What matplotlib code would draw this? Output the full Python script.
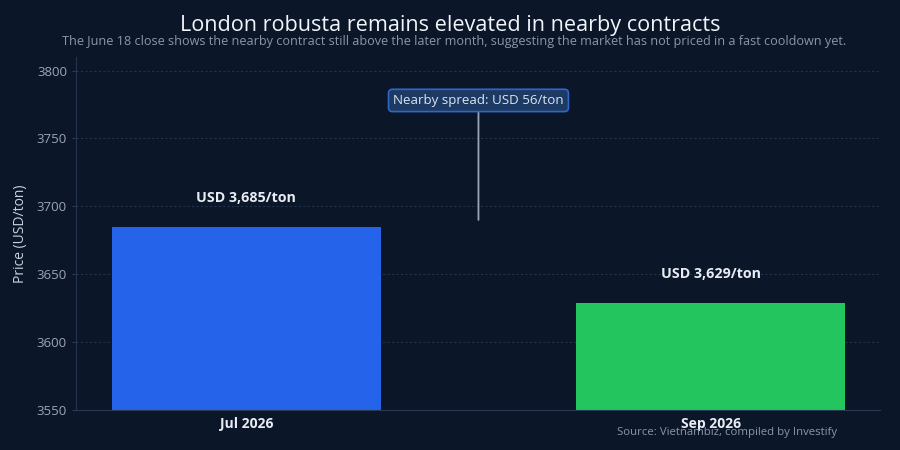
import matplotlib
matplotlib.use("Agg")
import matplotlib.pyplot as plt

# data
contracts = ["Jul 2026", "Sep 2026"]
prices = [3685, 3629]
bar_colors = ["#2563eb", "#22c55e"]
spread = prices[0] - prices[1]
yticks = [3550, 3600, 3650, 3700, 3750, 3800]

bg = "#0b1628"
plt.rcParams["font.family"] = ["Open Sans", "DejaVu Sans"]

fig = plt.figure(figsize=(9, 4.5), dpi=100, facecolor=bg)
ax = fig.add_axes([76 / 900, 40 / 450, 804 / 900, 353 / 450], facecolor=bg)

x = list(range(len(contracts)))
ax.bar(x, prices, width=0.58, color=bar_colors, zorder=2)

for xi, p in zip(x, prices):
    ax.text(xi, p + 16, f"USD {p:,}/ton", ha="center", va="bottom",
            color="#e8edf5", fontsize=10.3, fontweight="bold", zorder=3)

# spread callout
ax.annotate(f"Nearby spread: USD {spread}/ton", xy=(0.5, 3690), xytext=(0.5, 3778),
            ha="center", va="center", color="#dbe4f0", fontsize=9.6,
            bbox=dict(boxstyle="round,pad=0.35,rounding_size=0.3", fc="#1c3a64",
                      ec="#2f66c8", lw=1.2),
            arrowprops=dict(arrowstyle="-", color="#9aa6b8", lw=1.3, shrinkA=0, shrinkB=0),
            zorder=4)

ax.set_xlim(-0.367, 1.365)
ax.set_ylim(3550, 3810)
ax.set_yticks(yticks)
ax.set_xticks(x)
ax.set_xticklabels(contracts, fontsize=10, fontweight="bold", color="#e8edf5")
ax.tick_params(axis="y", colors="#2a3a52", labelcolor="#9aa6b8", labelsize=9.5, length=3)
ax.tick_params(axis="x", length=0, pad=5)
ax.grid(axis="y", color="#22324a", linestyle=(0, (2, 2)), lw=0.8, zorder=0)

for s in ["top", "right"]:
    ax.spines[s].set_visible(False)
ax.spines["left"].set_color("#24344c")
ax.spines["bottom"].set_color("#2a3a52")

ax.set_ylabel("Price (USD/ton)", color="#c9d3e0", fontsize=10, labelpad=6)

fig.text(450 / 900, 1 - 26 / 450, "London robusta remains elevated in nearby contracts",
         ha="center", va="center", color="#f1f5fb", fontsize=15.6)
fig.text(454 / 900, 1 - 41 / 450,
         "The June 18 close shows the nearby contract still above the later month, "
         "suggesting the market has not priced in a fast cooldown yet.",
         ha="center", va="center", color="#8b97a8", fontsize=9.1)
fig.text(837 / 900, 1 - 432 / 450, "Source: Vietnambiz, compiled by Investify",
         ha="right", va="center", color="#8b97a8", fontsize=8.2)

fig.savefig("out.png", dpi=100, facecolor=bg)
